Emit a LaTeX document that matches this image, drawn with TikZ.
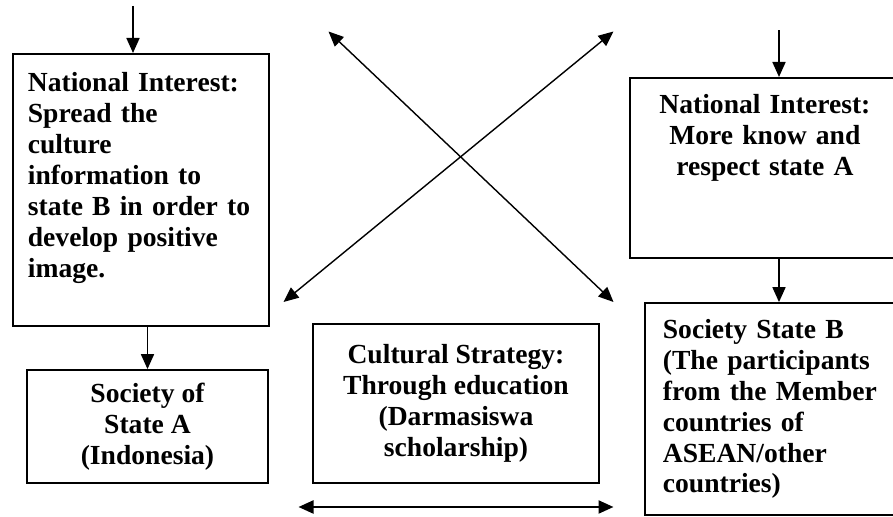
\documentclass[tikz,border=0pt]{standalone}
\usepackage{fontspec}
\setmainfont{Liberation Serif}
\usetikzlibrary{arrows.meta,positioning}
\tikzset{
  >={Triangle[length=0.3cm,width=0.26cm]},
  box/.style={draw, line width=1pt, inner xsep=0.4cm, inner ysep=0pt,
    font=\bfseries\fontsize{15.7}{17.6}\selectfont},
  arrow/.style={->, line width=1pt},
  cross/.style={<->, line width=0.8pt},
  wide/.style={<->, line width=1.3pt}
}
\begin{document}
\begin{tikzpicture}
  \useasboundingbox (0,0) rectangle (17.86,10.34);
  \clip (0,0) rectangle (17.86,10.34);

  % state A
  \node[box, anchor=north west, inner xsep=0.3cm, text width=4.52cm, align=left,
    text height=0.754cm, text depth=4.686cm] (interestA) at (0.24,9.28)
    {National Interest:\\ Spread the\\ culture\\ information to\\ state B in order to\\ develop positive\\ image.};
  \node[box, minimum width=4.82cm, minimum height=2.26cm, align=center] (societyA) at (2.95,1.81)
    {Society of\\ State A\\ (Indonesia)};

  % strategy
  \node[box, minimum width=5.72cm, minimum height=3.18cm, align=center] (strategy) at (9.12,2.27)
    {Cultural Strategy:\\ Through education\\ (Darmasiswa\\ scholarship)};

  % state B (runs past the right margin)
  \node[box, anchor=north west, text width=4.6cm, align=center,
    text height=0.72cm, text depth=2.88cm] (interestB) at (12.58,8.80)
    {National Interest:\\ More know and\\ respect state A};
  \node[box, anchor=west, inner xsep=0.36cm, text width=4.38cm, minimum height=4.24cm,
    align=left] (societyB) at (12.88,2.16)
    {Society State B\\ (The participants\\ from the Member\\ countries of\\ ASEAN/other\\ countries)};

  % vertical arrows
  \coordinate (topA) at (2.66,10.22);
  \draw[arrow] (topA) -- (topA |- interestA.north);
  \draw[arrow] (interestA.south -| societyA.north) -- (societyA.north);

  \coordinate (topB) at (15.58,9.73);
  \draw[arrow] (topB) -- (topB |- interestB.north);
  \draw[arrow] (topB |- interestB.south) -- (topB |- societyB.north);

  % crossing arrows
  \coordinate (nw) at (6.57,9.71);
  \coordinate (se) at (12.27,4.30);
  \coordinate (ne) at (12.27,9.71);
  \coordinate (sw) at (5.67,4.30);
  \draw[cross] (nw) -- (se);
  \draw[cross] (ne) -- (sw);

  % bottom arrow
  \coordinate (left) at (5.97,0.20);
  \coordinate (right) at (12.27,0.20);
  \draw[wide] (left) -- (right);
\end{tikzpicture}
\end{document}
